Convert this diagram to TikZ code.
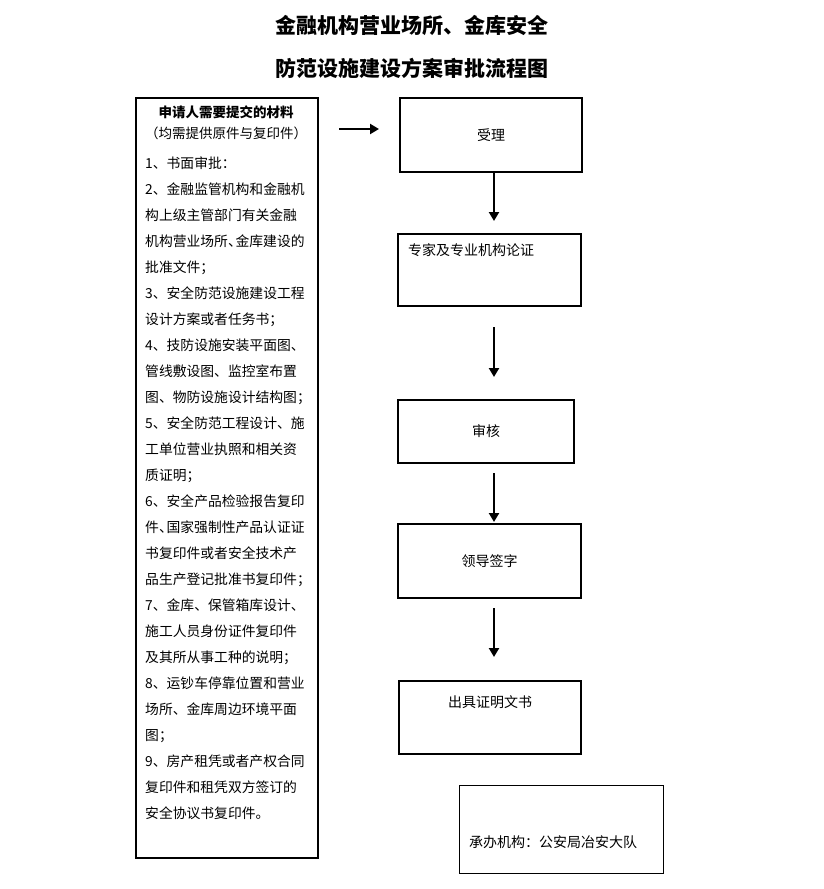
\documentclass[tikz,border=0pt]{standalone}
\usepackage{fontspec}
\setmainfont{Noto Sans CJK SC}
\usetikzlibrary{arrows.meta, positioning}
\newcommand\halfdun{、\kern-0.45em}

\begin{document}
\begin{tikzpicture}[x=1pt, y=-1pt]
\tikzstyle{flowbox} = [rectangle, draw, line width=2pt, inner sep=0pt, font=\fontsize{14}{16}\selectfont]
\tikzstyle{listbox} = [rectangle, draw, line width=2.4pt, inner sep=0pt]
\tikzstyle{notebox} = [rectangle, draw, line width=1pt, inner sep=0pt]
\tikzstyle{plain} = [inner sep=0pt, font=\fontsize{14}{16}\selectfont]
\tikzstyle{arrow} = [line width=2.5pt, -{Triangle[length=9pt, width=10pt]}]

\useasboundingbox (0,0) rectangle (823,889);

\node (title) [font=\fontsize{21}{43}\selectfont\bfseries, align=center] at (412,46.5) {金融机构营业场所、金库安全\\防范设施建设方案审批流程图};

\node (materials) [listbox, minimum width=182pt, minimum height=760pt, anchor=north west] at (135,97) {};
\node (mathead) [inner sep=0pt, align=center, font=\fontsize{13.5}{21}\selectfont] at (226,122.5) {\textbf{申请人需要提交的材料}\\（均需提供原件与复印件）};
\node (matlist) [inner sep=0pt, align=left, anchor=north west, font=\fontsize{13.8}{26}\selectfont] at (145,157) {1、书面审批：\\
2、金融监管机构和金融机\\
构上级主管部门有关金融\\
机构营业场所\halfdun 金库建设的\\
批准文件；\\
3、安全防范设施建设工程\\
设计方案或者任务书；\\
4、技防设施安装平面图、\\
管线敷设图、监控室布置\\
图、物防设施设计结构图；\\
5、安全防范工程设计、施\\
工单位营业执照和相关资\\
质证明；\\
6、安全产品检验报告复印\\
件\halfdun 国家强制性产品认证证\\
书复印件或者安全技术产\\
品生产登记批准书复印件；\\
7、金库、保管箱库设计、\\
施工人员身份证件复印件\\
及其所从事工种的说明；\\
8、运钞车停靠位置和营业\\
场所、金库周边环境平面\\
图；\\
9、房产租凭或者产权合同\\
复印件和租凭双方签订的\\
安全协议书复印件。};

\node (accept) [flowbox, minimum width=182pt, minimum height=74pt] at (491,135) {受理};
\node (expert) [flowbox, minimum width=183pt, minimum height=72pt] at (489.5,270) {};
\node (experttext) [plain, anchor=west] at (408,250) {专家及专业机构论证};
\node (review) [flowbox, minimum width=176pt, minimum height=63pt] at (486,431.5) {审核};
\node (sign) [flowbox, minimum width=183pt, minimum height=74pt] at (489.5,561) {领导签字};
\node (issue) [flowbox, minimum width=182pt, minimum height=73pt] at (490,717.5) {};
\node (issuetext) [plain] at (490,702) {出具证明文书};
\node (office) [notebox, minimum width=204pt, minimum height=88pt] at (561,829) {};
\node (officetext) [plain, anchor=west] at (469,842) {承办机构：公安局冶安大队};

\draw [arrow, shorten <=20pt, shorten >=20pt] ([yshift=6pt]materials.east |- accept.west) -- ([yshift=6pt]accept.west);
\draw [arrow, shorten >=12pt] ([xshift=3pt]accept.south) -- ([xshift=3pt]accept.south |- expert.north);
\draw [arrow, shorten <=20pt, shorten >=22pt] ([xshift=4.5pt]expert.south) -- ([xshift=4.5pt]expert.south |- review.north);
\draw [arrow, shorten <=9pt, shorten >=1pt] ([xshift=8pt]review.south) -- ([xshift=8pt]review.south |- sign.north);
\draw [arrow, shorten <=9pt, shorten >=23pt] ([xshift=4.5pt]sign.south) -- ([xshift=4.5pt]sign.south |- issue.north);

\end{tikzpicture}
\end{document}
